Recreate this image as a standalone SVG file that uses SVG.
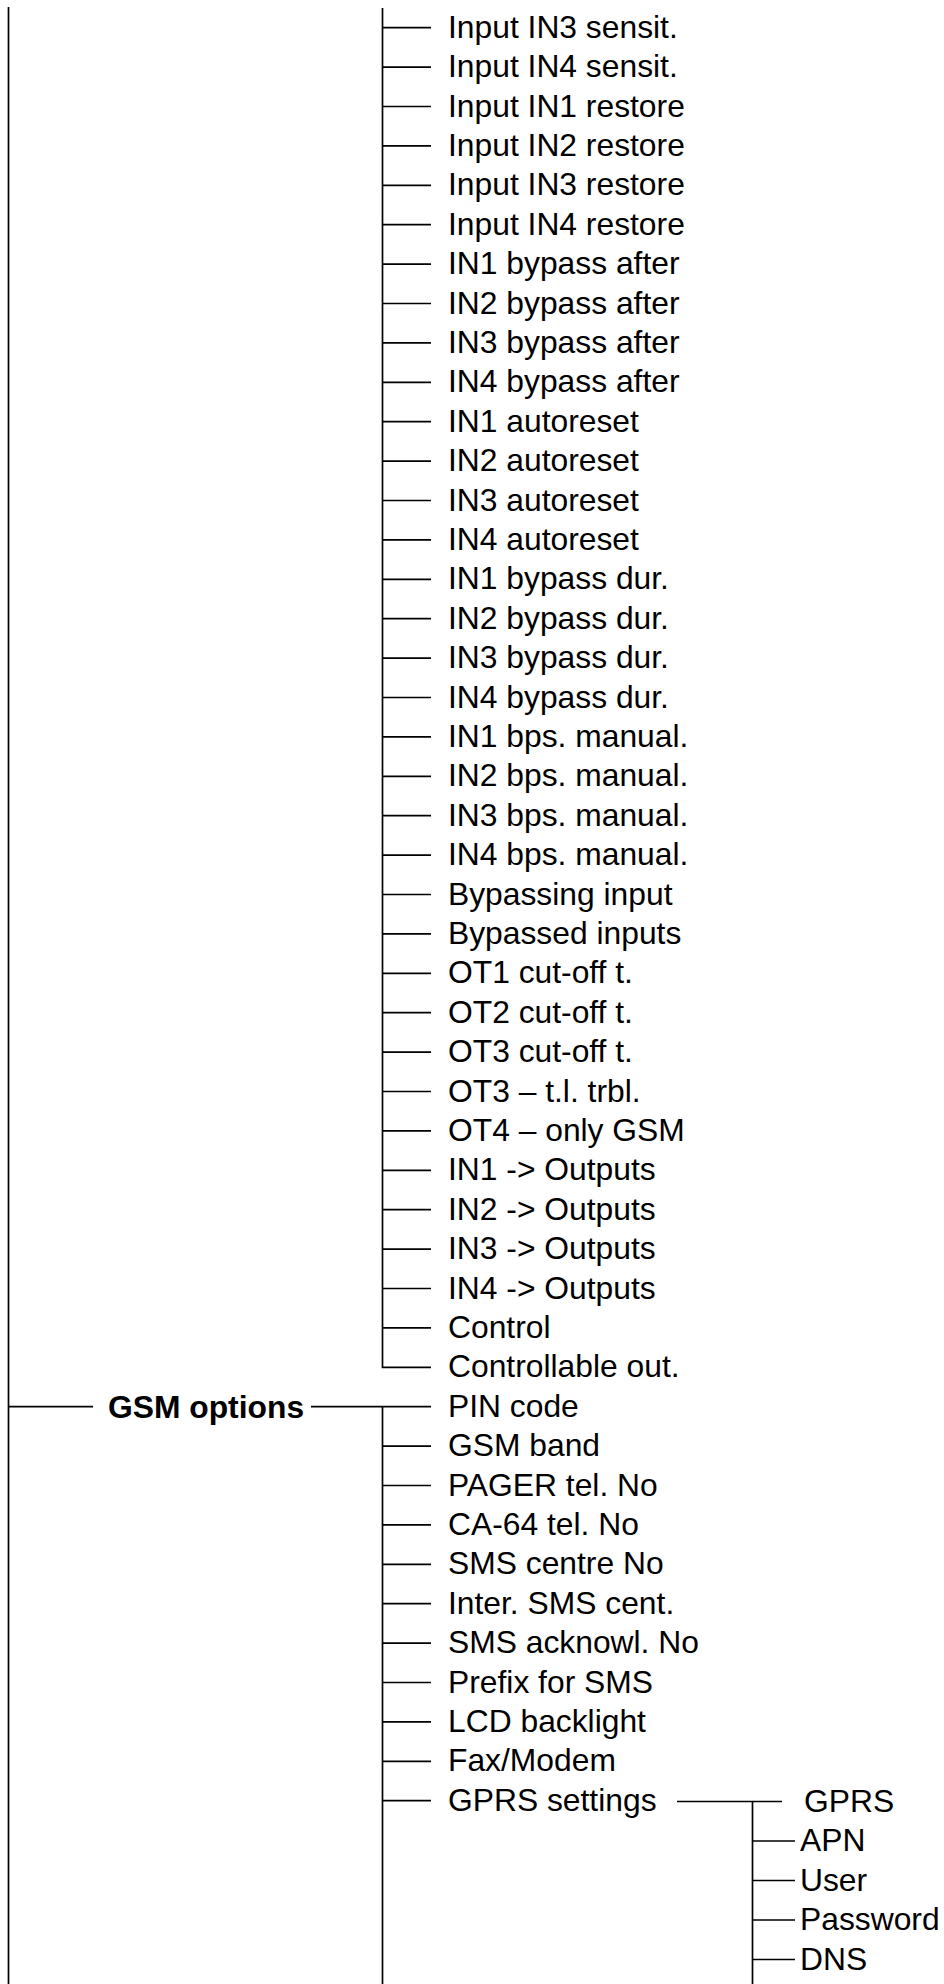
<svg xmlns="http://www.w3.org/2000/svg" width="944" height="1984" viewBox="0 0 944 1984">
<style>
.ln{stroke:#000;stroke-width:1.7;fill:none}
.t{font-family:"Liberation Sans",Arial,sans-serif;font-size:31.8px;fill:#000}
.b{font-weight:bold}
</style>
<rect width="944" height="1984" fill="#fff"/>
<g id="connectors" class="ln">
<path d="M8.5 7V1984"/>
<path d="M382.5 8V1367.3H431"/>
<path d="M382.5 27.7H431M382.5 67.1H431M382.5 106.5H431M382.5 145.9H431M382.5 185.3H431M382.5 224.7H431M382.5 264.1H431M382.5 303.5H431M382.5 342.9H431M382.5 382.3H431M382.5 421.7H431M382.5 461.1H431M382.5 500.5H431M382.5 539.9H431M382.5 579.3H431M382.5 618.7H431M382.5 658.1H431M382.5 697.5H431M382.5 736.9H431M382.5 776.3H431M382.5 815.7H431M382.5 855.1H431M382.5 894.5H431M382.5 933.9H431M382.5 973.3H431M382.5 1012.7H431M382.5 1052.1H431M382.5 1091.5H431M382.5 1130.9H431M382.5 1170.3H431M382.5 1209.7H431M382.5 1249.1H431M382.5 1288.5H431M382.5 1327.9H431"/>
<path d="M8.5 1406.7H93M311 1406.7H431"/>
<path d="M382.5 1406.7V1984"/>
<path d="M382.5 1446.1H431M382.5 1485.5H431M382.5 1524.9H431M382.5 1564.3H431M382.5 1603.7H431M382.5 1643.1H431M382.5 1682.5H431M382.5 1721.9H431M382.5 1761.3H431M382.5 1800.7H431"/>
<path d="M677 1801.5H782M752.5 1801.5V1984"/>
<path d="M752.5 1841H795M752.5 1880.5H795M752.5 1920H795M752.5 1959.5H795"/>
</g>
<g id="n_in3_sensit"><text class="t" x="448" y="37.7">Input IN3 sensit.</text></g>
<g id="n_in4_sensit"><text class="t" x="448" y="77.1">Input IN4 sensit.</text></g>
<g id="n_in1_restore"><text class="t" x="448" y="116.5">Input IN1 restore</text></g>
<g id="n_in2_restore"><text class="t" x="448" y="155.9">Input IN2 restore</text></g>
<g id="n_in3_restore"><text class="t" x="448" y="195.3">Input IN3 restore</text></g>
<g id="n_in4_restore"><text class="t" x="448" y="234.7">Input IN4 restore</text></g>
<g id="n_in1_bypass_after"><text class="t" x="448" y="274.1">IN1 bypass after</text></g>
<g id="n_in2_bypass_after"><text class="t" x="448" y="313.5">IN2 bypass after</text></g>
<g id="n_in3_bypass_after"><text class="t" x="448" y="352.9">IN3 bypass after</text></g>
<g id="n_in4_bypass_after"><text class="t" x="448" y="392.3">IN4 bypass after</text></g>
<g id="n_in1_autoreset"><text class="t" x="448" y="431.7">IN1 autoreset</text></g>
<g id="n_in2_autoreset"><text class="t" x="448" y="471.1">IN2 autoreset</text></g>
<g id="n_in3_autoreset"><text class="t" x="448" y="510.5">IN3 autoreset</text></g>
<g id="n_in4_autoreset"><text class="t" x="448" y="549.9">IN4 autoreset</text></g>
<g id="n_in1_bypass_dur"><text class="t" x="448" y="589.3">IN1 bypass dur.</text></g>
<g id="n_in2_bypass_dur"><text class="t" x="448" y="628.7">IN2 bypass dur.</text></g>
<g id="n_in3_bypass_dur"><text class="t" x="448" y="668.1">IN3 bypass dur.</text></g>
<g id="n_in4_bypass_dur"><text class="t" x="448" y="707.5">IN4 bypass dur.</text></g>
<g id="n_in1_bps"><text class="t" x="448" y="746.9">IN1 bps. manual.</text></g>
<g id="n_in2_bps"><text class="t" x="448" y="786.3">IN2 bps. manual.</text></g>
<g id="n_in3_bps"><text class="t" x="448" y="825.7">IN3 bps. manual.</text></g>
<g id="n_in4_bps"><text class="t" x="448" y="865.1">IN4 bps. manual.</text></g>
<g id="n_bypassing_input"><text class="t" x="448" y="904.5">Bypassing input</text></g>
<g id="n_bypassed_inputs"><text class="t" x="448" y="943.9">Bypassed inputs</text></g>
<g id="n_ot1_cutoff"><text class="t" x="448" y="983.3">OT1 cut-off t.</text></g>
<g id="n_ot2_cutoff"><text class="t" x="448" y="1022.7">OT2 cut-off t.</text></g>
<g id="n_ot3_cutoff"><text class="t" x="448" y="1062.1">OT3 cut-off t.</text></g>
<g id="n_ot3_tl"><text class="t" x="448" y="1101.5">OT3 – t.l. trbl.</text></g>
<g id="n_ot4_gsm"><text class="t" x="448" y="1140.9">OT4 – only GSM</text></g>
<g id="n_in1_out"><text class="t" x="448" y="1180.3">IN1 -&gt; Outputs</text></g>
<g id="n_in2_out"><text class="t" x="448" y="1219.7">IN2 -&gt; Outputs</text></g>
<g id="n_in3_out"><text class="t" x="448" y="1259.1">IN3 -&gt; Outputs</text></g>
<g id="n_in4_out"><text class="t" x="448" y="1298.5">IN4 -&gt; Outputs</text></g>
<g id="n_control"><text class="t" x="448" y="1337.9">Control</text></g>
<g id="n_controllable_out"><text class="t" x="448" y="1377.3">Controllable out.</text></g>
<g id="n_gsm_options"><text class="t b" x="108" y="1417.5">GSM options</text></g>
<g id="n_pin_code"><text class="t" x="448" y="1416.7">PIN code</text></g>
<g id="n_gsm_band"><text class="t" x="448" y="1456.1">GSM band</text></g>
<g id="n_pager"><text class="t" x="448" y="1495.5">PAGER tel. No</text></g>
<g id="n_ca64"><text class="t" x="448" y="1534.9">CA-64 tel. No</text></g>
<g id="n_sms_centre"><text class="t" x="448" y="1574.3">SMS centre No</text></g>
<g id="n_inter_sms"><text class="t" x="448" y="1613.7">Inter. SMS cent.</text></g>
<g id="n_sms_ack"><text class="t" x="448" y="1653.1">SMS acknowl. No</text></g>
<g id="n_prefix_sms"><text class="t" x="448" y="1692.5">Prefix for SMS</text></g>
<g id="n_lcd"><text class="t" x="448" y="1731.9">LCD backlight</text></g>
<g id="n_fax"><text class="t" x="448" y="1771.3">Fax/Modem</text></g>
<g id="n_gprs_settings"><text class="t" x="448" y="1810.7">GPRS settings</text></g>
<g id="n_gprs"><text class="t" x="804" y="1811.5">GPRS</text></g>
<g id="n_apn"><text class="t" x="800" y="1851">APN</text></g>
<g id="n_user"><text class="t" x="800" y="1890.5">User</text></g>
<g id="n_password"><text class="t" x="800" y="1930">Password</text></g>
<g id="n_dns"><text class="t" x="800" y="1969.5">DNS</text></g>
</svg>
